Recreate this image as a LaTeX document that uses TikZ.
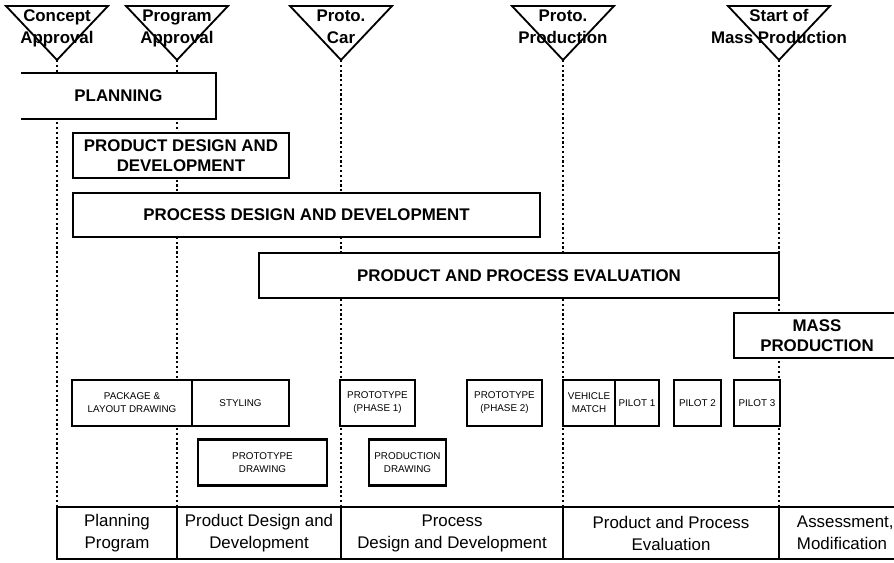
\documentclass[tikz,border=0pt]{standalone}
\usepackage{fontspec}
\setmainfont{Liberation Sans}
\begin{document}
\begin{tikzpicture}[x=0.025cm, y=-0.025cm, line join=miter]
    \tikzstyle{milestone}=[draw=black, line width=1.3pt]
    \tikzstyle{mtext}=[font=\fontsize{12}{14}\selectfont\bfseries, inner sep=0pt, anchor=base]
    \tikzstyle{timeline}=[line width=1.8pt, dash pattern=on 1.6pt off 1.8pt]
    \tikzstyle{phase}=[draw, fill=white, line width=1.4pt, align=center, inner sep=0pt, font=\fontsize{12}{14.2}\selectfont\bfseries]
    \tikzstyle{task}=[draw, fill=white, line width=2.1pt, align=center, inner sep=0pt, minimum height=1.15cm, font=\fontsize{7}{9.2}\selectfont]
    \tikzstyle{stage}=[draw, line width=1.4pt, align=center, inner sep=0pt, minimum height=1.3cm, font=\fontsize{12}{15.6}\selectfont]

    \useasboundingbox (0,0) rectangle (894,562);
    \clip (0,0) rectangle (894,562);

    % Draw the milestones
    \foreach \name/\x/\la/\lb in {1/57/Concept/Approval, 2/177/Program/Approval, 3/341/Proto./Car, 4/563/Proto./Production, 5/779/Start of/Mass Production} {
        \draw[milestone] (\x-51,6) -- (\x+51,6) -- (\x,60) -- cycle;
        \coordinate (M-\name) at (\x,60);
        \node[mtext] (L-\name) at (\x,21) {\la};
        \node[mtext] (K-\name) at (\x,43) {\lb};
    }

    % Draw the stages at the bottom
    \foreach \name/\x/\w/\txt in {1/117/3/{Planning\\Program}, 2/259/4.1/{Product Design and\\Development}, 3/452/5.55/{Process\\Design and Development}, 4/671/5.4/{Product and Process\\Evaluation}}
        \node[stage, minimum width=\w cm] (S-\name) at (\x,533) {\txt};
    \node[stage, minimum width=3.75cm, text width=2.85cm, align=left] (S-5) at (854,533) {Assessment,\\Modification};

    % Dotted lines from each milestone down to the stages
    \foreach \name in {1,...,5}
        \draw[timeline] (M-\name) -- (M-\name |- S-\name.north);

    % Phases
    \node[phase, draw=none, minimum width=4.825cm, minimum height=1.1cm] (planning) at (118.5,96) {PLANNING};
    \draw[line width=1.4pt] (planning.north west) -- (planning.north east) -- (planning.south east) -- (planning.south west);
    \node[phase, minimum width=5.4cm, minimum height=1.125cm] (pdd) at (181,155.5) {PRODUCT DESIGN AND\\DEVELOPMENT};
    \node[phase, minimum width=11.675cm, minimum height=1.1cm] (prdd) at (306.5,215) {PROCESS DESIGN AND DEVELOPMENT};
    \node[phase, minimum width=13cm, minimum height=1.125cm] (ppe) at (519,275.5) {PRODUCT AND PROCESS EVALUATION};
    \node[phase, minimum width=4.15cm, minimum height=1.125cm] (mass) at (817,335.5) {MASS\\PRODUCTION};

    % Tasks
    \foreach \name/\x/\y/\w/\txt in {pkg/132/403/3/{PACKAGE \&\\LAYOUT DRAWING}, sty/240.5/403/2.425/STYLING, ptd/262.5/462.5/3.225/{PROTOTYPE\\DRAWING}, ph1/377.5/403/1.875/{PROTOTYPE\\(PHASE 1)}, prd/407.5/462.5/1.925/{PRODUCTION\\DRAWING}, ph2/504.5/403/1.875/{PROTOTYPE\\(PHASE 2)}, vm/589/403/1.3/{VEHICLE\\MATCH}, p1/637/403/1.1/PILOT 1, p2/697.5/403/1.175/PILOT 2, p3/757/403/1.15/PILOT 3}
        \node[task, minimum width=\w cm] (\name) at (\x,\y) {\txt};
\end{tikzpicture}
\end{document}
